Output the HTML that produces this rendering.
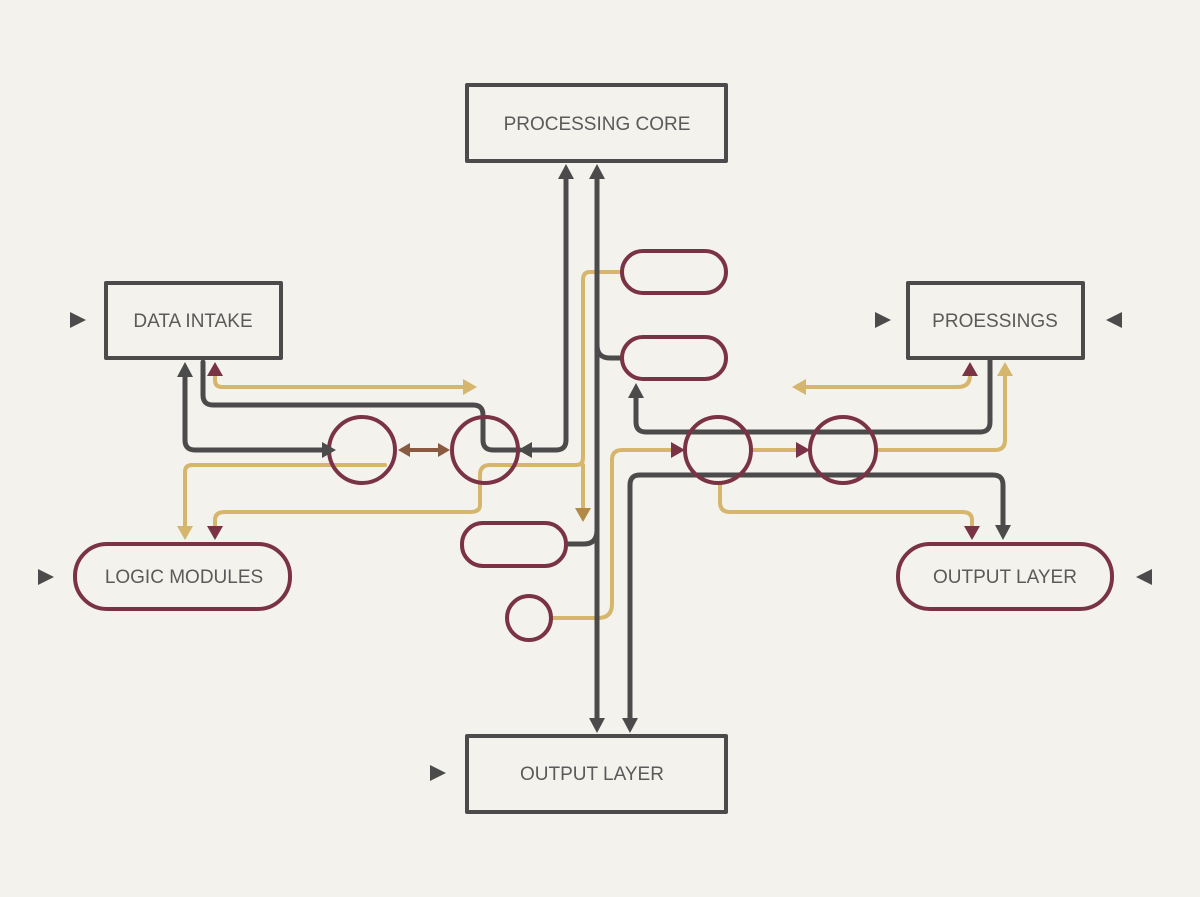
<!DOCTYPE html>
<html><head><style>
body{margin:0;background:#f4f2ed;}
svg{display:block}
text{font-family:"Liberation Sans",sans-serif;font-size:19px;fill:#5a5a5a;text-anchor:middle;dominant-baseline:middle}
</style></head><body>
<svg width="1200" height="897" viewBox="0 0 1200 897" xmlns="http://www.w3.org/2000/svg">
<rect width="1200" height="897" fill="#f4f2ed"/>
<g fill="none" stroke-linejoin="round" stroke-linecap="round">
<g stroke="#d6b56c" stroke-width="4">
<path d="M215,372 V380 Q215,387 222,387 H466"/>
<path d="M620,272 H590 Q583,272 583,280 V458 Q583,465 576,465 H490 Q480,465 480,475 V505 Q480,512 470,512 H225 Q215,512 215,520 V528"/>
<path d="M583,465 V508"/>
<path d="M385,465 H192 Q185,465 185,472 V528"/>
<path d="M551,618 H598 Q612,618 612,604 V460 Q612,450 622,450 H676"/>
<path d="M751,450 H798"/>
<path d="M876,450 H995 Q1005,450 1005,440 V372"/>
<path d="M803,387 H958 Q970,387 970,375 V372"/>
<path d="M720,483 V502 Q720,512 730,512 H962 Q972,512 972,520 V528"/>
</g>
<g stroke="#4b4b4b" stroke-width="5">
<path d="M566,175 V440 Q566,450 556,450 H530"/>
<path d="M597,175 V720"/>
<path d="M597,345 Q597,358 610,358 H622"/>
<path d="M597,530 Q597,544 584,544 H566"/>
<path d="M185,372 V440 Q185,450 195,450 H322"/>
<path d="M203,362 V395 Q203,405 213,405 H473 Q483,405 483,415 V440 Q483,450 493,450 H520"/>
<path d="M636,394 V422 Q636,432 646,432 H980 Q990,432 990,422 V360"/>
<path d="M630,720 V485 Q630,475 640,475 H993 Q1003,475 1003,485 V528"/>
</g>
<g stroke="#8a5a40" stroke-width="4"><path d="M405,450 H440"/></g>
<g stroke="#4b4b4b" stroke-width="4" fill="#f4f2ed">
<rect x="467" y="85" width="259" height="76"/>
<rect x="106" y="283" width="175" height="75"/>
<rect x="908" y="283" width="175" height="75"/>
<rect x="467" y="736" width="259" height="76"/>
</g>
<g stroke="#7a3345" stroke-width="4">
<rect x="75" y="544" width="215" height="65" rx="32" fill="#f4f2ed"/>
<rect x="898" y="544" width="214" height="65" rx="32" fill="#f4f2ed"/>
<rect x="622" y="251" width="104" height="42" rx="21" fill="#f4f2ed"/>
<rect x="622" y="337" width="104" height="42" rx="21" fill="#f4f2ed"/>
<rect x="462" y="523" width="104" height="43" rx="21" fill="#f4f2ed"/>
<circle cx="529" cy="618" r="22" fill="#f4f2ed"/>
<circle cx="362" cy="450" r="33"/>
<circle cx="485" cy="450" r="33"/>
<circle cx="718" cy="450" r="33"/>
<circle cx="843" cy="450" r="33"/>
</g>
</g>
<g fill="#4b4b4b">
<path d="M566,164 l-8,15 h16z"/>
<path d="M597,164 l-8,15 h16z"/>
<path d="M185,362 l-8,15 h16z"/>
<path d="M636,383 l-8,15 h16z"/>
<path d="M322,442 l0,16 l14,-8z"/>
<path d="M518,450 l14,-8 v16z"/>
<path d="M597,733 l-8,-15 h16z"/>
<path d="M630,733 l-8,-15 h16z"/>
<path d="M1003,540 l-8,-15 h16z"/>
<path d="M70,312 v16 l16,-8z"/>
<path d="M875,312 v16 l16,-8z"/>
<path d="M1122,312 v16 l-16,-8z"/>
<path d="M38,569 v16 l16,-8z"/>
<path d="M1152,569 v16 l-16,-8z"/>
<path d="M430,765 v16 l16,-8z"/>
</g>
<g fill="#7a3345">
<path d="M215,362 l-8,14 h16z"/>
<path d="M215,540 l-8,-14 h16z"/>
<path d="M970,362 l-8,14 h16z"/>
<path d="M972,540 l-8,-14 h16z"/>
<path d="M685,450 l-14,-8 v16z"/>
<path d="M810,450 l-14,-8 v16z"/>
</g>
<g fill="#d6b56c">
<path d="M477,387 l-14,-8 v16z"/>
<path d="M185,540 l-8,-14 h16z"/>
<path d="M1005,362 l-8,14 h16z"/>
<path d="M792,387 l14,-8 v16z"/>
</g>
<g fill="#b38a45"><path d="M583,522 l-8,-14 h16z"/></g>
<g fill="#8a5a40">
<path d="M398,450 l12,-7 v14z"/>
<path d="M450,450 l-12,-7 v14z"/>
</g>
<text x="597" y="125">PROCESSING CORE</text>
<text x="193" y="322">DATA INTAKE</text>
<text x="995" y="322">PROESSINGS</text>
<text x="184" y="578">LOGIC MODULES</text>
<text x="1005" y="578">OUTPUT LAYER</text>
<text x="592" y="775">OUTPUT LAYER</text>
</svg>
</body></html>
